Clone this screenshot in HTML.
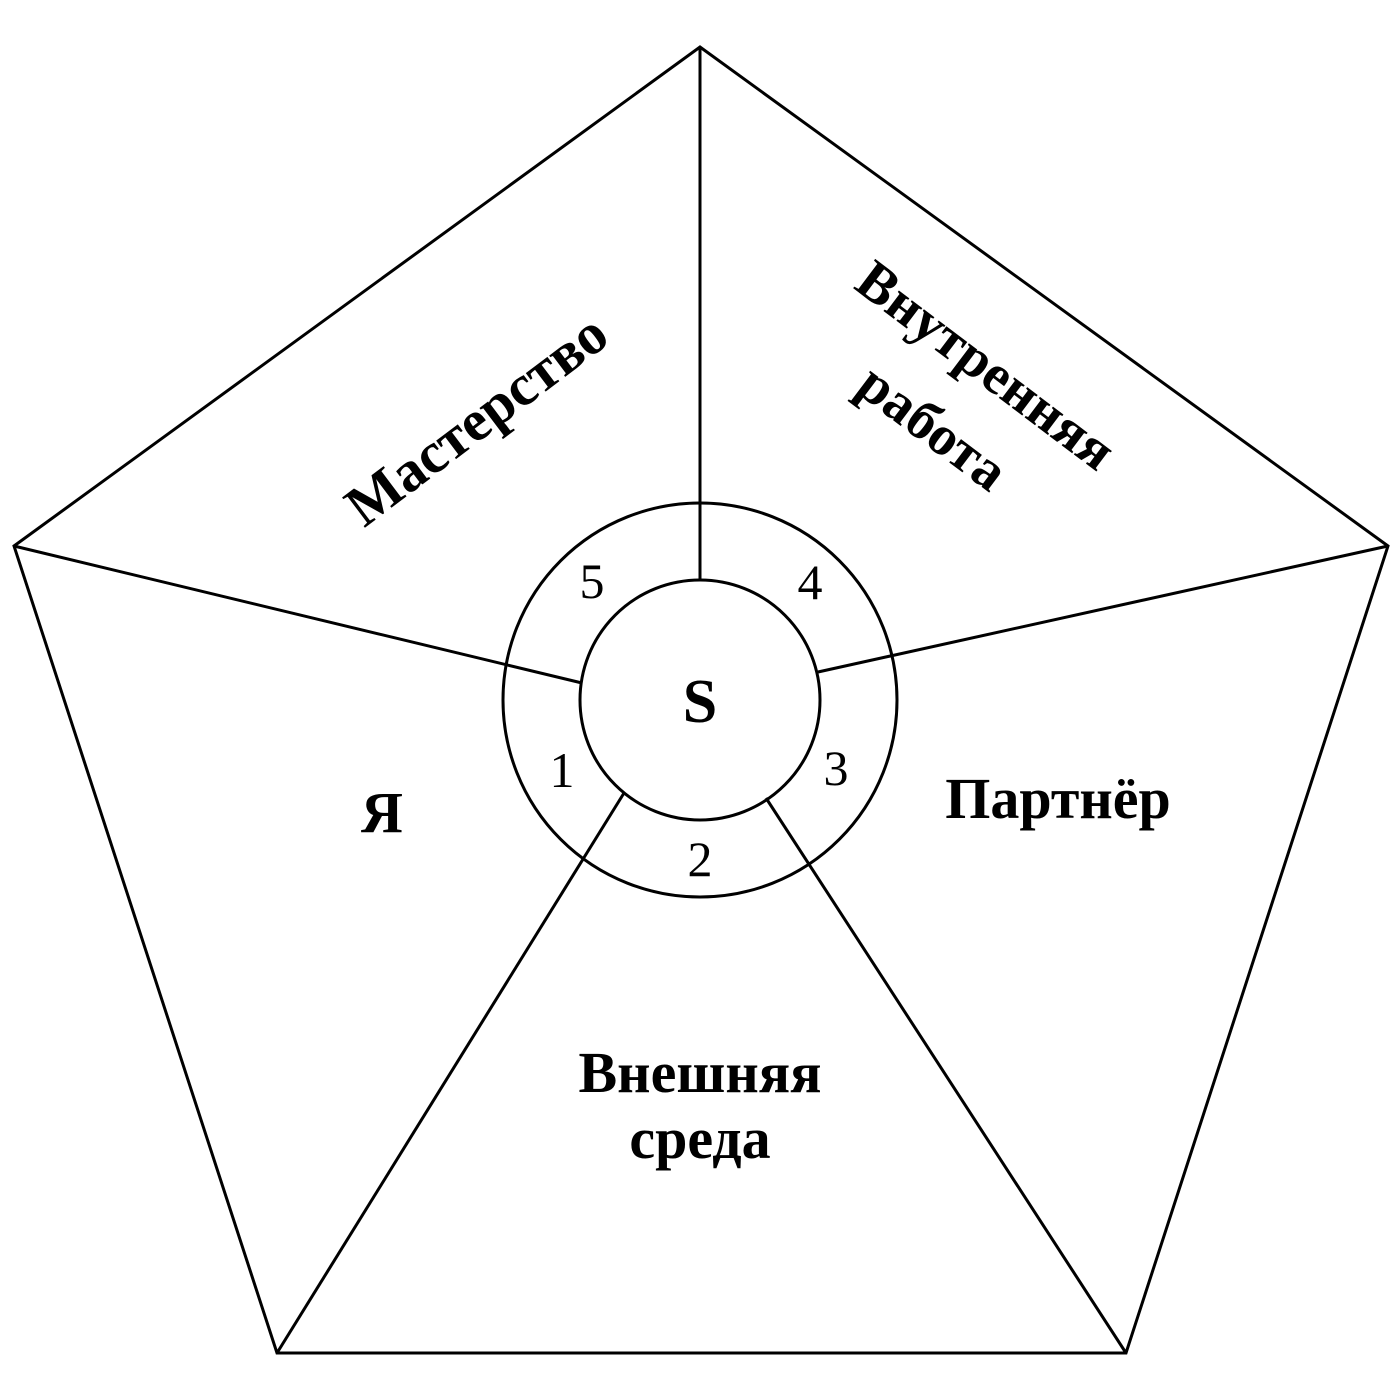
<!DOCTYPE html>
<html><head><meta charset="utf-8"><style>html,body{margin:0;padding:0;background:#fff}svg{display:block}</style></head>
<body>
<svg width="1400" height="1400" viewBox="0 0 1400 1400" xmlns="http://www.w3.org/2000/svg">
<g fill="none" stroke="#000" stroke-width="3">
<polygon points="700,47 1388,546 1126,1353 277,1353 14,546"/>
<circle cx="700" cy="700" r="197"/>
<circle cx="700" cy="700" r="120"/>
<line x1="700" y1="47" x2="700" y2="580"/>
<line x1="1388" y1="546" x2="818" y2="672"/>
<line x1="14" y1="546" x2="582" y2="683"/>
<line x1="277" y1="1353" x2="624" y2="793"/>
<line x1="1126" y1="1353" x2="766" y2="798"/>
</g>
<g font-family="Liberation Serif, serif" text-anchor="middle" fill="#000">
<text x="700" y="722" font-size="62" font-weight="bold">S</text>
<text x="592" y="598" font-size="50">5</text>
<text x="810" y="599" font-size="50">4</text>
<text x="836" y="785" font-size="50">3</text>
<text x="562" y="787" font-size="50">1</text>
<text x="700" y="876" font-size="50">2</text>
<g font-weight="bold" font-size="58">
<text x="382" y="832">Я</text>
<text x="1058" y="818">Партнёр</text>
<text x="700" y="1092">Внешняя</text>
<text x="700" y="1158">среда</text>
<text transform="translate(488,435) rotate(-37)">Мастерство</text>
<text font-size="56" transform="translate(975,380) rotate(37)">Внутренняя</text>
<text font-size="56" transform="translate(922,442) rotate(37)">работа</text>
</g>
</g>
</svg>
</body></html>
